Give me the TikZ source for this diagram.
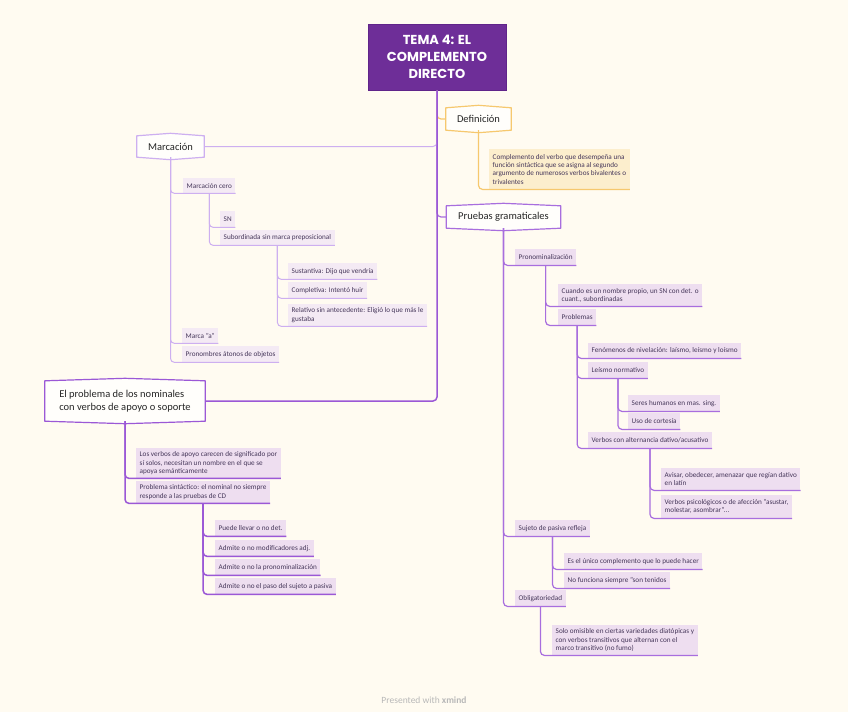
\documentclass[tikz,border=0pt]{standalone}
\usepackage{fontspec}
\setmainfont{Carlito}
\newfontfamily\titlefont{Poppins}
\usetikzlibrary{calc,backgrounds}
\definecolor{bg}{RGB}{255,251,241}
\definecolor{titlefill}{RGB}{110,46,152}
\definecolor{titleborder}{RGB}{96,36,138}
\definecolor{marcline}{RGB}{205,175,240}
\definecolor{marcfill}{RGB}{244,234,244}
\definecolor{leaffill}{RGB}{238,222,240}
\definecolor{prunline}{RGB}{168,110,222}
\definecolor{probline}{RGB}{155,88,214}
\definecolor{defline}{RGB}{246,200,110}
\definecolor{deffill}{RGB}{252,238,205}
\definecolor{leaftext}{RGB}{70,55,90}
\definecolor{topicfill}{RGB}{255,254,251}
\tikzset{
  topic/.style={inner sep=2pt, font=\fontsize{10.5}{12.5}\selectfont, text=black!85, align=left},
  leafbase/.style={anchor=north west, inner xsep=3.5pt, inner ysep=0pt, align=left,
    font=\fontsize{7.2}{8.3}\selectfont, text=leaftext},
  mleaf/.style={leafbase, fill=marcfill},
  pleaf/.style={leafbase, fill=leaffill},
  dleaf/.style={leafbase, fill=deffill},
  mconn/.style={draw=marcline, line width=1pt, rounded corners=4pt},
  pconn/.style={draw=prunline, line width=1.2pt, rounded corners=4pt},
  bconn/.style={draw=probline, line width=1.5pt, rounded corners=4pt},
  dconn/.style={draw=defline, line width=1.2pt, rounded corners=4pt},
}
\newcommand{\lf}[6]{\node[#1, minimum height=#5] (#2) at (#3,#4) {#6};}
\newcommand{\tframe}[2]{\filldraw[fill=topicfill, draw=#2, line width=1.2pt, line join=round]
  (#1.north west) -- ($(#1.north west)!0.5!(#1.north east)+(0,-2.5)$) -- (#1.north east)
  -- (#1.south east) -- ($(#1.south west)!0.5!(#1.south east)+(0,2.5)$) -- (#1.south west) -- cycle;}
\begin{document}
\begin{tikzpicture}[x=1pt,y=-1pt]
\useasboundingbox (0,0) rectangle (848,712);
\begin{scope}[on background layer]
\fill[bg] (0,0) rectangle (848,712);
\end{scope}

% title
\node[fill=titlefill, draw=titleborder, line width=1pt, minimum width=138, minimum height=66,
  align=center, text=white, font=\titlefont\bfseries\fontsize{13}{17}\selectfont]
  (title) at (437,57) {TEMA 4: EL\\COMPLEMENTO\\DIRECTO};

% main topics
\node[topic, minimum width=65, minimum height=22] (def) at (478.5,119) {Definición};
\node[topic, minimum width=67, minimum height=21] (marc) at (170.5,146.5) {Marcación};
\node[topic, minimum width=114, minimum height=22] (pru) at (503.5,217) {Pruebas gramaticales};
\node[topic, minimum width=160, minimum height=40] (prob) at (125,401)
  {El problema de los nominales\\con verbos de apoyo o soporte};
\begin{scope}[on background layer]
\tframe{def}{defline}
\tframe{marc}{marcline}
\tframe{pru}{prunline}
\tframe{prob}{probline}
\end{scope}

% Definicion child
\lf{dleaf}{defc}{489}{149}{40}{Complemento del verbo que desempeña una\\función sintáctica que se asigna al segundo\\argumento de numerosos verbos bivalentes o\\trivalentes}

% Marcacion leaves
\lf{mleaf}{mc0}{183}{178}{15}{Marcación cero}
\lf{mleaf}{msn}{220}{211}{16}{SN}
\lf{mleaf}{msub}{220}{230}{15}{Subordinada sin marca preposicional}
\lf{mleaf}{msus}{288}{263}{16}{Sustantiva: Dijo que vendría}
\lf{mleaf}{mcom}{288}{282}{16}{Completiva: Intentó huir}
\lf{mleaf}{mrel}{288}{304}{22}{Relativo sin antecedente: Eligió lo que más le\\gustaba}
\lf{mleaf}{mca}{182}{328}{15}{Marca "a"}
\lf{mleaf}{mpr}{182}{346}{16}{Pronombres átonos de objetos}

% El problema leaves
\lf{pleaf}{pv}{136}{448}{30}{Los verbos de apoyo carecen de significado por\\sí solos, necesitan un nombre en el que se\\apoya semánticamente}
\lf{pleaf}{ps}{136}{481}{22}{Problema sintáctico: el nominal no siempre\\responde a las pruebas de CD}
\lf{pleaf}{p1}{215}{520}{16}{Puede llevar o no det.}
\lf{pleaf}{p2}{215}{540}{16}{Admite o no modificadores adj.}
\lf{pleaf}{p3}{215}{559}{16}{Admite o no la pronominalización}
\lf{pleaf}{p4}{215}{578}{16}{Admite o no el paso del sujeto a pasiva}

% Pruebas leaves
\lf{pleaf}{q1}{515}{249}{16}{Pronominalización}
\lf{pleaf}{q11}{558}{284}{22}{Cuando es un nombre propio, un SN con det. o\\cuant., subordinadas}
\lf{pleaf}{q12}{558}{309}{16}{Problemas}
\lf{pleaf}{q121}{588}{343}{15}{Fenómenos de nivelación: laísmo, leísmo y loísmo}
\lf{pleaf}{q122}{588}{362}{16}{Leísmo normativo}
\lf{pleaf}{q1221}{628}{395}{16}{Seres humanos en mas. sing.}
\lf{pleaf}{q1222}{628}{413}{16}{Uso de cortesía}
\lf{pleaf}{q123}{588}{432}{16}{Verbos con alternancia dativo/acusativo}
\lf{pleaf}{q1231}{661}{468}{22}{Avisar, obedecer, amenazar que regían dativo\\en latín}
\lf{pleaf}{q1232}{661}{495}{23}{Verbos psicológicos o de afección "asustar,\\molestar, asombrar"...}
\lf{pleaf}{q2}{515}{520}{16}{Sujeto de pasiva refleja}
\lf{pleaf}{q21}{564}{553}{16}{Es el único complemento que lo puede hacer}
\lf{pleaf}{q22}{564}{572}{16}{No funciona siempre "son tenidos}
\lf{pleaf}{q3}{515}{590}{16}{Obligatoriedad}
\lf{pleaf}{q31}{552}{625}{30}{Solo omisible en ciertas variedades diatópicas y\\con verbos transitivos que alternan con el\\marco transitivo (no fumo)}

% trunk connectors
\draw[dconn] (title.south) |- (def.west);
\draw[pconn] (title.south) |- (pru.west);
\draw[mconn] (title.south) |- (marc.east);
\draw[bconn] (title.south) |- (prob.east);

% definicion
\draw[dconn] (def.south) |- (defc.south east);

% marcacion
\foreach \c in {mc0,mca,mpr} \draw[mconn] (marc.south) |- (\c.south east);
\foreach \c in {msn,msub} \draw[mconn] (mc0.south) |- (\c.south east);
\foreach \c in {msus,mcom,mrel} \draw[mconn] (msub.south) |- (\c.south east);

% el problema
\foreach \c in {pv,ps} \draw[bconn] (prob.south) |- (\c.south east);
\foreach \c in {p1,p2,p3,p4} \draw[bconn] (ps.south) |- (\c.south east);

% pruebas
\foreach \c in {q1,q2,q3} \draw[pconn] (pru.south) |- (\c.south east);
\foreach \c in {q11,q12} \draw[pconn] (q1.south) |- (\c.south east);
\foreach \c in {q121,q122,q123} \draw[pconn] (q12.south) |- (\c.south east);
\foreach \c in {q1221,q1222} \draw[pconn] (q122.south) |- (\c.south east);
\foreach \c in {q1231,q1232} \draw[pconn] (q123.south) |- (\c.south east);
\foreach \c in {q21,q22} \draw[pconn] (q2.south) |- (\c.south east);
\draw[pconn] (q3.south) |- (q31.south east);

% footer
\node[text=black!28, font=\fontsize{9.5}{11}\selectfont] (foot) at (424,700) {Presented with \textbf{xmind}};
\end{tikzpicture}
\end{document}
